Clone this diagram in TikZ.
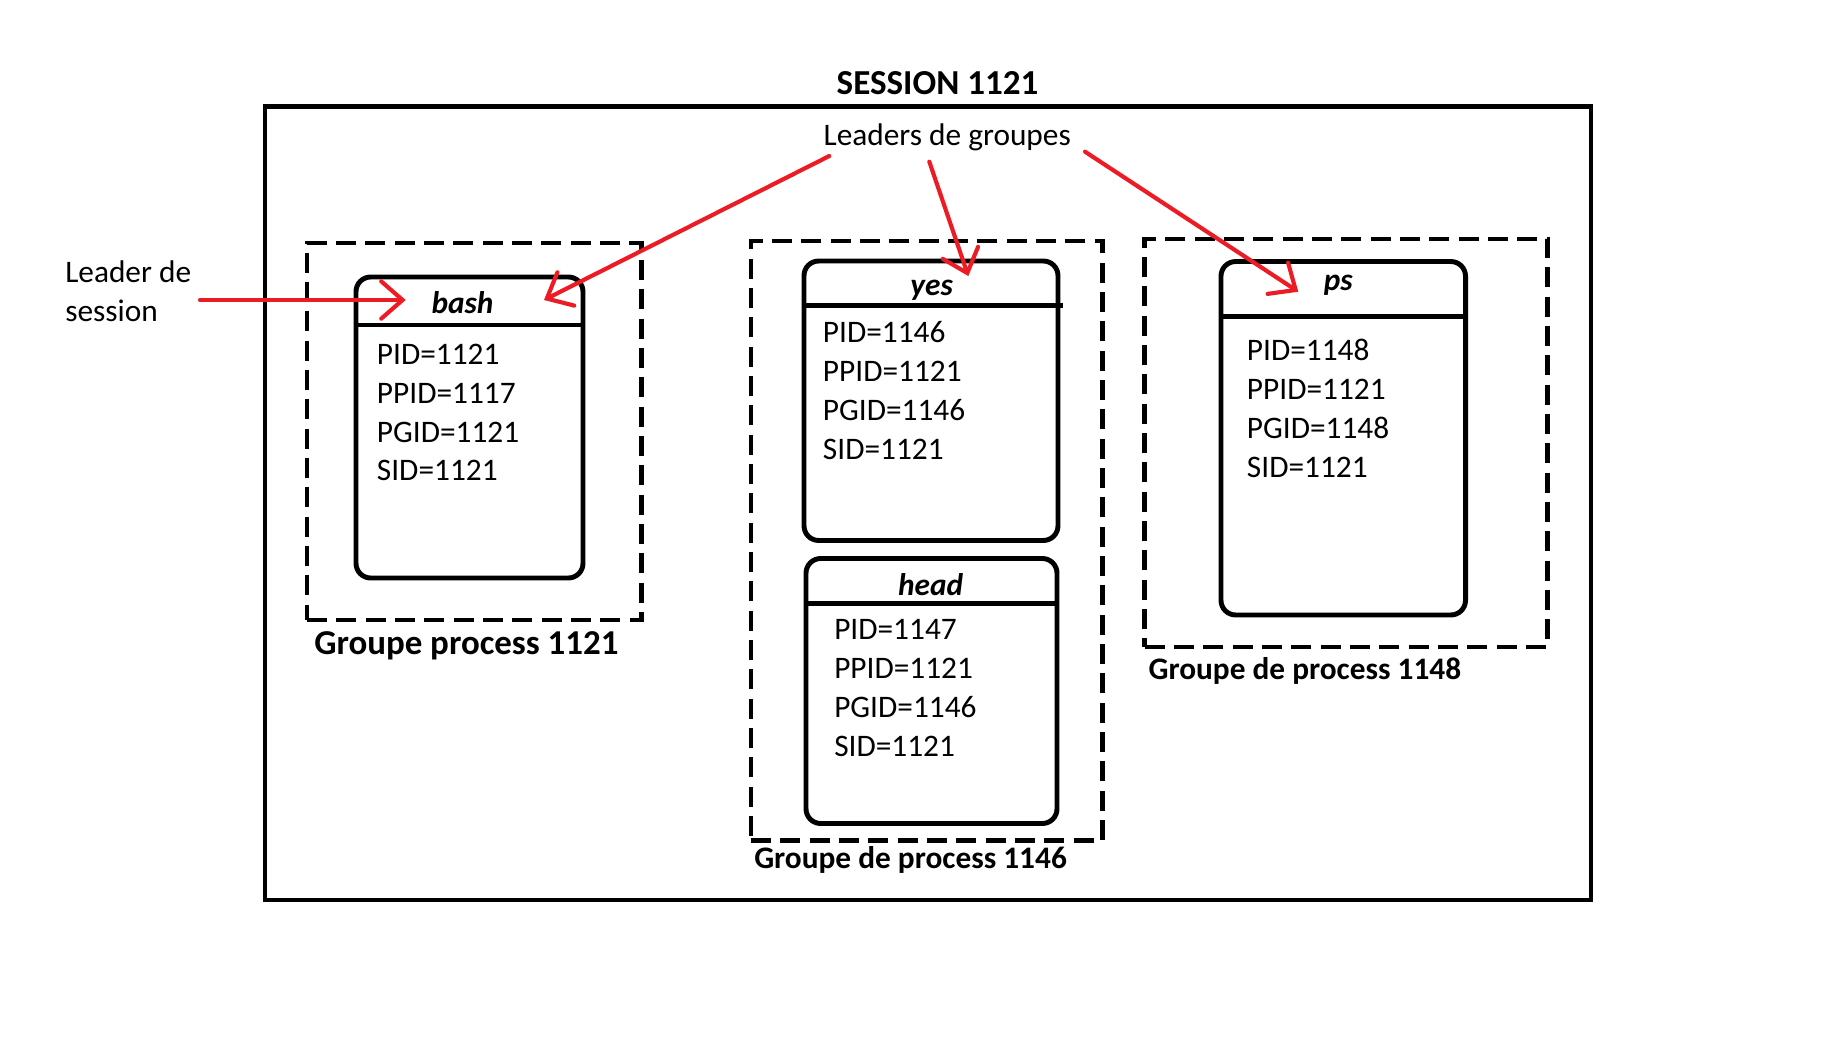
\documentclass[tikz,border=0pt]{standalone}
\usepackage{fontspec}
\setmainfont{Carlito}
\usetikzlibrary{arrows.meta}
\definecolor{pred}{HTML}{ED1C24}
\begin{document}
\begin{tikzpicture}[x=0.75pt,y=-0.75pt,
  sess/.style={draw, line width=3.5pt, inner sep=0pt, outer sep=0pt},
  proc/.style={draw, line width=3.7pt, rounded corners=11pt, inner sep=0pt, outer sep=0pt},
  grp/.style={draw, line width=3.3pt, dash pattern=on 15pt off 7pt, inner sep=0pt, outer sep=0pt},
  hdr/.style={line width=3.7pt},
  txt/.style={inner sep=0pt, anchor=base west, font=\fontsize{23.5}{28}\selectfont},
  ptitle/.style={inner sep=0pt, anchor=base, font=\fontsize{23.5}{28}\selectfont\bfseries\itshape},
  lbl/.style={inner sep=0pt, anchor=base west, font=\fontsize{23.5}{28}\selectfont\bfseries},
  lead/.style={draw=pred, line width=3.1pt, line cap=round, -{Straight Barb[length=16pt,width=28pt,line cap=round]}}
]
\useasboundingbox (0,0) rectangle (1830,1062);

% session
\node[sess, minimum width=994.5pt, minimum height=595pt] (session) at (928,503.35) {};
\node[inner sep=0pt, anchor=base, font=\fontsize{26.3}{30}\selectfont\bfseries] (stitle) at (937.5,95) {SESSION 1121};

% groups
\node[grp, minimum width=250.9pt, minimum height=282.9pt] (g1) at (474.25,431.4) {};
\node[grp, minimum width=263.6pt, minimum height=449.6pt] (g2) at (926.75,540.75) {};
\node[grp, minimum width=302.25pt, minimum height=306pt] (g3) at (1346,443) {};

% process boxes
\node[proc, minimum width=170.25pt, minimum height=225.75pt] (bash) at (469.5,427.5) {};
\node[proc, minimum width=190.5pt, minimum height=209.6pt] (yes) at (931,400.75) {};
\node[proc, minimum width=188.25pt, minimum height=198.75pt] (head) at (931.5,691) {};
\node[proc, minimum width=183.4pt, minimum height=265.1pt] (ps) at (1343.25,438.25) {};

% header lines
\draw[hdr] ([yshift=-36pt]bash.north west) -- ([yshift=-36pt]bash.north east);
\draw[hdr] ([yshift=-33.3pt]yes.north west) -- ([yshift=-33.3pt,xshift=4pt]yes.north east);
\draw[hdr] ([yshift=-33.4pt]head.north west) -- ([yshift=-33.4pt]head.north east);
\draw[hdr] ([yshift=-41.4pt]ps.north west) -- ([yshift=-41.4pt]ps.north east);

% titles
\node[ptitle] (tbash) at (462.5,313.5) {bash};
\node[ptitle] (tyes) at (931.7,295.5) {yes};
\node[ptitle] (thead) at (930.7,595.5) {head};
\node[ptitle] (tps) at (1338.3,291) {ps};

% bash entries
\node[txt] (b1) at (376.7,364) {PID=1121};
\node[txt] (b2) at (376.7,403.3) {PPID=1117};
\node[txt] (b3) at (376.7,442.3) {PGID=1121};
\node[txt] (b4) at (376.7,480.7) {SID=1121};
% yes entries
\node[txt] (y1) at (822.7,342.7) {PID=1146};
\node[txt] (y2) at (822.7,381.8) {PPID=1121};
\node[txt] (y3) at (822.7,420.7) {PGID=1146};
\node[txt] (y4) at (822.7,459.7) {SID=1121};
% head entries
\node[txt] (h1) at (834,639.5) {PID=1147};
\node[txt] (h2) at (834,678.2) {PPID=1121};
\node[txt] (h3) at (834,717.3) {PGID=1146};
\node[txt] (h4) at (834,756) {SID=1121};
% ps entries
\node[txt] (p1) at (1246.7,360) {PID=1148};
\node[txt] (p2) at (1246.7,399) {PPID=1121};
\node[txt] (p3) at (1246.7,438) {PGID=1148};
\node[txt] (p4) at (1246.7,477.3) {SID=1121};

% group labels
\node[lbl, font=\fontsize{26.2}{30}\selectfont\bfseries] (l1) at (314,654) {Groupe process 1121};
\node[lbl] (l2) at (754,868.7) {Groupe de process 1146};
\node[lbl] (l3) at (1148.3,679) {Groupe de process 1148};

% annotations
\node[inner sep=0pt, anchor=base, font=\fontsize{23.5}{28}\selectfont] (leaders) at (947.2,145.7) {Leaders de groupes};
\node[txt] (lds1) at (65,282.4) {Leader de};
\node[txt] (lds2) at (65,321.2) {session};

% arrow end points
\coordinate (sA) at (200,300);
\coordinate (tA) at (405.7,300);
\coordinate (sB) at (829.3,156);
\coordinate (tB) at (544,300);
\coordinate (sC) at (929.3,161.7);
\coordinate (tC) at (968.3,276);
\coordinate (sD) at (1085,151.7);
\coordinate (tD) at (1298.3,291.7);

\draw[lead] (sA) -- (tA);
\draw[lead] (sB) -- (tB);
\draw[lead] (sC) -- (tC);
\draw[lead] (sD) -- (tD);
\end{tikzpicture}
\end{document}
